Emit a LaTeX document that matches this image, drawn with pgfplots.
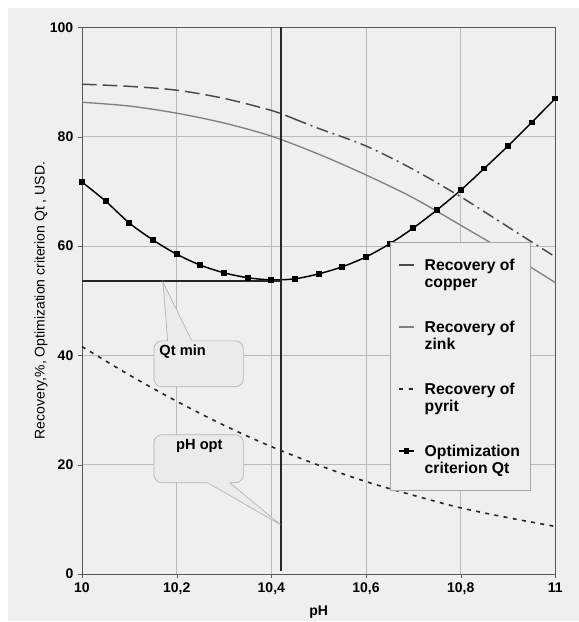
\documentclass[border=0pt]{standalone}
\usepackage{pgfplots}
\pgfplotsset{compat=1.18}
\usepackage{fontspec}
\setmainfont{Liberation Sans}
\definecolor{bg}{HTML}{EFEFEF}
\definecolor{callfill}{HTML}{EBEBEB}
\definecolor{copperc}{HTML}{4A4A4A}
\definecolor{zinkc}{HTML}{808080}
\definecolor{pyritc}{HTML}{252525}
\newcommand{\entry}[4]{\begin{tabular}[b]{@{}l@{}}\rule{0pt}{#1}#3\\#4\rule[-#2]{0pt}{#2}\end{tabular}}
\begin{document}
\begin{tikzpicture}
\useasboundingbox (-61.5pt,-36pt) rectangle (372.75pt,430.5pt);
\fill[bg] (-55.5pt,-35.25pt) rectangle (372.75pt,424.5pt);
\begin{axis}[
  scale only axis, width=355pt, height=410pt,
  xmin=10, xmax=11, ymin=0, ymax=100,
  xtick={10,10.2,10.4,10.6,10.8,11},
  xticklabels={10,{10,2},{10,4},{10,6},{10,8},11},
  ytick={0,20,40,60,80,100},
  grid=major, grid style={gray!55, line width=0.5pt},
  axis line style={gray!70!black, line width=0.6pt},
  tick align=outside, major tick length=3pt, tick pos=left,
  tick style={gray!70!black},
  /pgf/number format/assume math mode=true,
  ticklabel style={font=\fontsize{10.5}{12}\selectfont\bfseries},
  xlabel={pH},
  ylabel={Recovery,\%, Optimization criterion Qt , USD.},
  xlabel style={font=\fontsize{10.5}{12}\selectfont\bfseries, at={(axis description cs:0.5,-0.0695)}, anchor=center},
  ylabel style={font=\fontsize{10.5}{12}\selectfont, at={(axis description cs:-0.0866,0.5)}, anchor=center},
  legend style={at={(axis description cs:0.651,0.607)}, anchor=north west,
    fill=bg, draw=gray!70, font=\fontsize{11.8}{12.5}\selectfont\bfseries,
    row sep=0pt, column sep=5.5pt, inner xsep=6pt, inner ysep=9.5pt,
    cells={anchor=base west}, nodes={inner sep=2pt}},
  legend image code/.code={\draw[mark repeat=2,mark phase=2,#1] plot coordinates {(0pt,0pt) (5.5pt,0pt) (11pt,0pt)};},
  legend image post style={yshift=16.5pt},
]
% Recovery of copper (dashed part)
\addplot[copperc, line width=1.1pt, dash pattern=on 11pt off 4.5pt, smooth] coordinates {
  (10.0,89.6) (10.1,89.2) (10.2,88.5) (10.3,87.0) (10.4,84.8) (10.45,83.2)};
\addlegendentry{\entry{9.5pt}{0pt}{Recovery of}{copper}}
% Recovery of copper (dash-dot part)
\addplot[copperc, line width=1.1pt, dash pattern=on 9pt off 3.5pt on 1.5pt off 3.5pt, smooth, forget plot] coordinates {
  (10.45,83.2) (10.5,81.5) (10.6,78.3) (10.7,74.0) (10.8,69.0) (10.9,63.5) (11.0,58.0)};
% Recovery of zink
\addplot[zinkc, line width=1pt, smooth] coordinates {
  (10.0,86.3) (10.1,85.6) (10.2,84.3) (10.3,82.5) (10.4,80.1) (10.5,76.8)
  (10.6,73.0) (10.7,68.8) (10.8,63.8) (10.9,58.7) (11.0,53.3)};
\addlegendentry{\entry{28.5pt}{0pt}{Recovery of}{zink}}
% Recovery of pyrit
\addplot[pyritc, line width=1.2pt, dash pattern=on 3pt off 4pt, smooth] coordinates {
  (10.0,41.6) (10.1,36.4) (10.2,31.6) (10.3,27.2) (10.4,23.3) (10.5,19.9)
  (10.6,16.9) (10.7,14.4) (10.8,12.1) (10.9,10.3) (11.0,8.7)};
\addlegendentry{\entry{28.5pt}{0pt}{Recovery of}{pyrit}}
% Optimization criterion Qt
\addplot[black, line width=1.1pt, smooth, mark=square*, mark size=1.6pt, mark options={solid}] coordinates {
  (10.00,71.7) (10.05,68.2) (10.10,64.2) (10.15,61.1) (10.20,58.5) (10.25,56.5)
  (10.30,55.1) (10.35,54.2) (10.40,53.8) (10.45,54.0) (10.50,54.9) (10.55,56.2)
  (10.60,58.0) (10.65,60.4) (10.70,63.3) (10.75,66.6) (10.80,70.2) (10.85,74.2)
  (10.90,78.3) (10.95,82.6) (11.00,87.0)};
\addlegendentry{\entry{28.5pt}{0pt}{Optimization}{criterion Qt}}
% pH opt and Qt min lines
\addplot[black!85, line width=1.1pt, forget plot] coordinates {(10.42,0.5) (10.42,100)};
\addplot[black!85, line width=0.9pt, forget plot] coordinates {(10,53.6) (10.42,53.6)};
% callouts
\filldraw[draw=gray!60, fill=callfill, line width=0.5pt]
  (axis cs:10.152,38) [rounded corners=6pt] -- (axis cs:10.152,42.65) [sharp corners] -- (axis cs:10.181,42.65)
  -- (axis cs:10.171,53.4) -- (axis cs:10.232,42.65) [rounded corners=6pt] -- (axis cs:10.341,42.65)
  -- (axis cs:10.341,34.25) -- (axis cs:10.152,34.25) [sharp corners] -- cycle;
\node[font=\fontsize{11}{12}\selectfont\bfseries] at (axis cs:10.2126,40.64) {Qt min};
\filldraw[draw=gray!60, fill=callfill, line width=0.5pt]
  (axis cs:10.152,21) [rounded corners=6pt] -- (axis cs:10.152,25.48) -- (axis cs:10.341,25.48)
  -- (axis cs:10.341,16.7) [sharp corners] -- (axis cs:10.312,16.7) -- (axis cs:10.419,9.04)
  -- (axis cs:10.265,16.7) [rounded corners=6pt] -- (axis cs:10.152,16.7) [sharp corners] -- cycle;
\node[font=\fontsize{11}{12}\selectfont\bfseries] at (axis cs:10.248,23.47) {pH opt};
\end{axis}
\end{tikzpicture}
\end{document}
